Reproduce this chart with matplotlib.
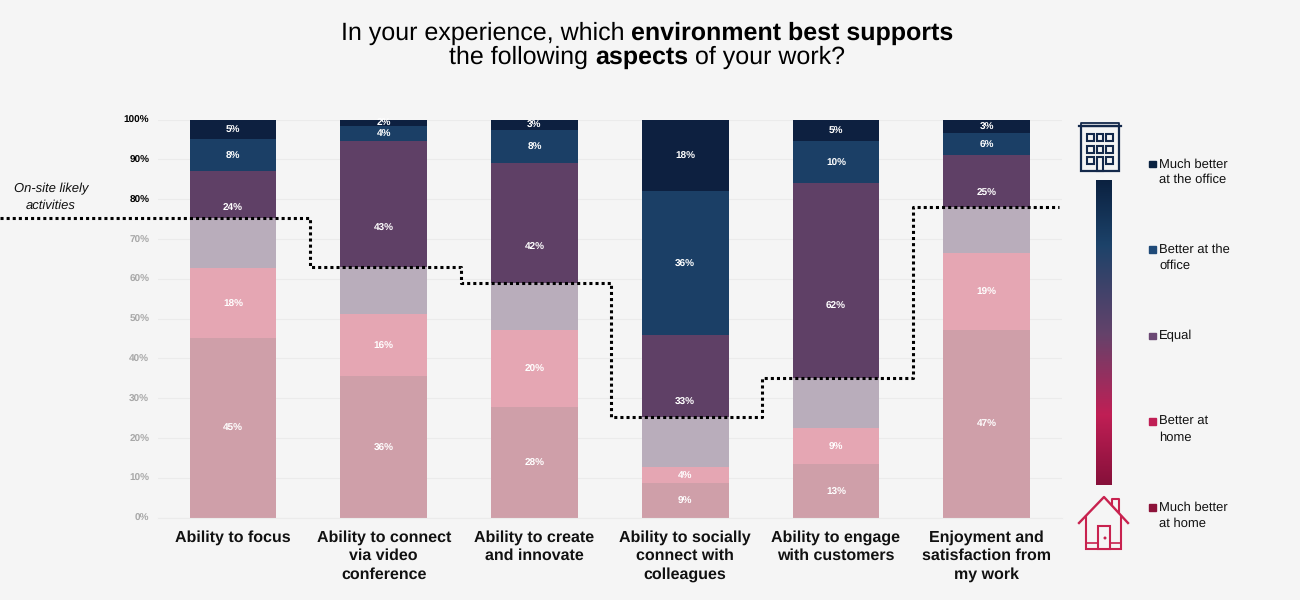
from __future__ import annotations

import matplotlib
matplotlib.use("Agg")
import matplotlib.pyplot as plt
import numpy as np
from matplotlib.colors import LinearSegmentedColormap
from matplotlib.patches import Circle, Polygon, Rectangle

plt.rcParams["font.family"] = ["Liberation Sans", "DejaVu Sans"]
plt.rcParams["text.hinting"] = "no_hinting"
plt.rcParams["text.hinting_factor"] = 1

CATEGORIES = [
    "Ability to focus",
    "Ability to connect\nvia video\nconference",
    "Ability to create\nand innovate",
    "Ability to socially\nconnect with\ncolleagues",
    "Ability to engage\nwith customers",
    "Enjoyment and\nsatisfaction from\nmy work",
]
MUCH_HOME = [45.1, 35.5, 27.7, 8.7, 13.4, 47.2]
BETTER_HOME = [17.6, 15.6, 19.4, 4.0, 9.1, 19.2]
EQUAL = [24.3, 43.5, 41.9, 33.2, 61.5, 24.7]
BETTER_OFFICE = [8.0, 3.8, 8.4, 36.1, 10.6, 5.5]
MUCH_OFFICE = [5.0, 1.6, 2.6, 18.0, 5.4, 3.4]
ONSITE_CUT = [75.2, 62.9, 58.9, 25.2, 35.0, 78.0]

LABEL_HOME_MUCH = ["45%", "36%", "28%", "9%", "13%", "47%"]
LABEL_HOME = ["18%", "16%", "20%", "4%", "9%", "19%"]
LABEL_EQUAL = ["24%", "43%", "42%", "33%", "62%", "25%"]
LABEL_OFFICE = ["8%", "4%", "8%", "36%", "10%", "6%"]
LABEL_OFFICE_MUCH = ["5%", "2%", "3%", "18%", "5%", "3%"]

LEGEND_LABELS = [
    "Much better\nat the office",
    "Better at the\noffice",
    "Equal",
    "Better at\nhome",
    "Much better\nat home",
]
LEGEND_COLORS = ["#0a2240", "#1f4a78", "#6b4874", "#c01f55", "#8c1239"]
Y_TICKS = [0, 10, 20, 30, 40, 50, 60, 70, 80, 90, 100]

BG = "#f5f5f5"
NAVY = "#14294b"
CRIMSON = "#c8224f"
W, H = 1300, 600


def mixed_line(fig, parts, y_px, size):
    # one centred line with normal and bold runs, measured then placed
    renderer = fig.canvas.get_renderer()
    items = []
    for txt, weight in parts:
        items.append(fig.text(0, 1 - y_px / H, txt, fontsize=size, fontweight=weight,
                              va="center", ha="left", color="black"))
    widths = [t.get_window_extent(renderer).width for t in items]
    x = 647 - sum(widths) / 2
    for t, w in zip(items, widths):
        t.set_x(x / W)
        x += w


def draw_icons(ov):
    # office block
    ov.add_patch(Rectangle((1081, 126), 38, 45, fill=False, ec=NAVY, lw=1.6))
    ov.plot([1079, 1121], [126, 126], color=NAVY, lw=1.6)
    ov.plot([1081, 1081, 1119, 1119], [126, 123, 123, 126], color=NAVY, lw=1.3)
    for wy in (134, 145.5, 157):
        for wx in (1087, 1096.5, 1106):
            if wy == 157 and wx == 1096.5:
                continue
            ov.add_patch(Rectangle((wx, wy), 6.5, 7, fill=False, ec=NAVY, lw=1.5))
    ov.add_patch(Rectangle((1097, 157), 6, 14, fill=False, ec=NAVY, lw=1.5))
    # house
    ov.plot([1079, 1104, 1128], [523, 497, 523], color=CRIMSON, lw=1.7)
    ov.plot([1112, 1112, 1119, 1119], [505, 499, 499, 513], color=CRIMSON, lw=1.5)
    ov.add_patch(Polygon([(1086, 515), (1086, 549), (1121, 549), (1121, 515)],
                         closed=False, fill=False, ec=CRIMSON, lw=1.5))
    ov.plot([1086, 1121], [543, 543], color=CRIMSON, lw=1.2)
    ov.add_patch(Rectangle((1098, 526), 12, 23, fc=BG, ec=CRIMSON, lw=1.5, zorder=3))
    ov.add_patch(Circle((1105, 538), 0.8, color=CRIMSON, zorder=4))


fig = plt.figure(figsize=(13, 6), dpi=100, facecolor=BG)
ax = fig.add_axes([157.6 / W, 1 - 517.5 / H, (1062 - 157.6) / W, 398 / H], facecolor=BG)

x = np.arange(len(CATEGORIES))
much_home = np.array(MUCH_HOME)
home = np.array(BETTER_HOME)
equal = np.array(EQUAL)
office = np.array(BETTER_OFFICE)
much_office = np.array(MUCH_OFFICE)
cut = np.array(ONSITE_CUT)

width = 0.575
b_home = much_home
b_equal = b_home + home
b_office = b_equal + equal
b_much = b_office + office

ax.bar(x, much_home, width, color="#cf9fa9")
ax.bar(x, home, width, bottom=b_home, color="#e5a6b3")
# the Equal block is pale below the on-site line and dark above it
ax.bar(x, cut - b_equal, width, bottom=b_equal, color="#b9adbb")
ax.bar(x, b_office - cut, width, bottom=cut, color="#5f4066")
ax.bar(x, office, width, bottom=b_office, color="#1b3f66")
ax.bar(x, much_office, width, bottom=b_much, color="#0d2040")

for i in x:
    lab = dict(ha="center", va="center_baseline", color="white", fontsize=7, fontweight="bold")
    ax.text(i, b_home[i] / 2, LABEL_HOME_MUCH[i], **lab)
    ax.text(i, b_home[i] + home[i] / 2, LABEL_HOME[i], **lab)
    mid = b_equal[i] + equal[i] / 2
    if abs(mid - cut[i]) < 4:  # keep clear of the dotted line
        mid += 3
    ax.text(i, mid, LABEL_EQUAL[i], **lab)
    ax.text(i, b_office[i] + office[i] / 2, LABEL_OFFICE[i], **lab)
    ax.text(i, b_much[i] + much_office[i] / 2, LABEL_OFFICE_MUCH[i], **lab)

# dotted on-site line, runs off to the left edge of the figure
edges = np.concatenate([[-1.545], x[:-1] + 0.51, [5.48]])
levels = np.concatenate([cut, [cut[-1]]])
ax.step(edges, levels, where="post", color="black", lw=2.2,
        linestyle=(0, (1, 1)), clip_on=False, zorder=5)

ax.set_xlim(-0.5, 5.5)
ax.set_ylim(0, 100)
ax.set_yticks(Y_TICKS)
ax.set_yticklabels([f"{t}%" for t in Y_TICKS], fontsize=7.5, fontweight="bold",
                   va="center_baseline")
for t, lbl in zip(Y_TICKS, ax.get_yticklabels()):
    lbl.set_color("black" if t >= 80 else "#a8a8a8")
ax.set_xticks(x)
ax.set_xticklabels(CATEGORIES, fontsize=11.5, fontweight="bold", color="#111111",
                   linespacing=1.3)
ax.tick_params(axis="both", length=0)
ax.tick_params(axis="y", pad=6)
ax.tick_params(axis="x", pad=9)
ax.grid(axis="y", color="#ebebeb", lw=0.8)
ax.set_axisbelow(True)
for s in ax.spines.values():
    s.set_visible(False)
ax.spines["bottom"].set_visible(True)
ax.spines["bottom"].set_color("#ebebeb")

# overlay in pixel coordinates for the side key, icons and notes
ov = fig.add_axes([0, 0, 1, 1], facecolor="none")
ov.set_xlim(0, W)
ov.set_ylim(H, 0)
ov.axis("off")
ov.set_zorder(3)

ov.text(51, 197, "On-site likely\nactivities", style="italic", fontsize=9.7,
        ha="center", va="center", color="#111111", linespacing=1.45)

cmap = LinearSegmentedColormap.from_list(
    "office_home",
    [(0, "#0b2140"), (0.21, "#1c4269"), (0.5, "#63436b"), (0.77, "#c01f55"), (1, "#86103a")],
)
ov.imshow(np.linspace(0, 1, 256)[:, None], cmap=cmap, extent=(1096, 1112, 485, 180),
          aspect="auto", zorder=2)
ov.set_xlim(0, W)
ov.set_ylim(H, 0)

for y_px, label, color in zip([172, 257.5, 336, 429.5, 515.5], LEGEND_LABELS, LEGEND_COLORS):
    marker_y = y_px - 8.5 if "\n" in label else y_px - 0.5
    ov.add_patch(Rectangle((1149, marker_y - 3), 6.5, 6.5, color=color))
    ov.text(1159, y_px, label, fontsize=9.7, va="center", ha="left", color="#111111",
            linespacing=1.35)

draw_icons(ov)

fig.canvas.draw()
mixed_line(fig, [("In your experience, which ", "normal"),
                 ("environment best supports", "bold")], 33.5, 18)
mixed_line(fig, [("the following ", "normal"), ("aspects", "bold"),
                 (" of your work?", "normal")], 57.5, 18)

fig.savefig("out.png", dpi=100, facecolor=BG)
plt.close(fig)
